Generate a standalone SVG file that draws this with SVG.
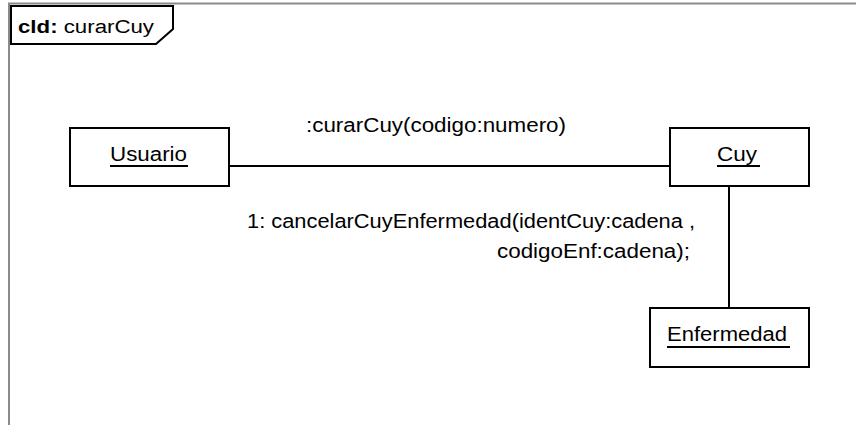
<svg xmlns="http://www.w3.org/2000/svg" width="856" height="425" viewBox="0 0 856 425">
<style>
.box{fill:#fff;stroke:#000;stroke-width:2}
.t{font-family:"Liberation Sans",Arial,sans-serif;font-size:20px;fill:#000}
.ul{stroke:#000;stroke-width:2}
.conn{stroke:#000;stroke-width:2;fill:none}
</style>
<rect width="856" height="425" fill="#fff"/>
<g id="frame">
<path d="M9 425 V3.5 H856" fill="none" stroke="#8a8a8a" stroke-width="2"/>
<path d="M11 6 H173 V29 L156 44 H11 Z" fill="#fff" stroke="#000" stroke-width="2"/>
<text x="18" y="33" class="t" style="font-size:18px" textLength="136" lengthAdjust="spacingAndGlyphs"><tspan font-weight="bold">cld:</tspan> curarCuy</text>
</g>
<g id="connectors">
<line class="conn" x1="229" y1="166" x2="670" y2="166"/>
<line class="conn" x1="729" y1="186" x2="729" y2="308"/>
<text x="306" y="132" class="t" textLength="260" lengthAdjust="spacingAndGlyphs">:curarCuy(codigo:numero)</text>
<text x="247" y="228" class="t" textLength="448" lengthAdjust="spacingAndGlyphs">1: cancelarCuyEnfermedad(identCuy:cadena ,</text>
<text x="497" y="258" class="t" textLength="193" lengthAdjust="spacingAndGlyphs">codigoEnf:cadena);</text>
</g>
<g id="usuario">
<rect class="box" x="70" y="128" width="159" height="58"/>
<text x="110" y="161" class="t" textLength="77" lengthAdjust="spacingAndGlyphs">Usuario</text>
<line class="ul" x1="110" y1="166" x2="188" y2="166"/>
</g>
<g id="cuy">
<rect class="box" x="670" y="128" width="139" height="58"/>
<text x="717" y="161" class="t" textLength="40" lengthAdjust="spacingAndGlyphs">Cuy</text>
<line class="ul" x1="717" y1="166" x2="760" y2="166"/>
</g>
<g id="enfermedad">
<rect class="box" x="650" y="308" width="159" height="59"/>
<text x="667" y="341" class="t" textLength="120" lengthAdjust="spacingAndGlyphs">Enfermedad</text>
<line class="ul" x1="667" y1="347" x2="790" y2="347"/>
</g>
</svg>
